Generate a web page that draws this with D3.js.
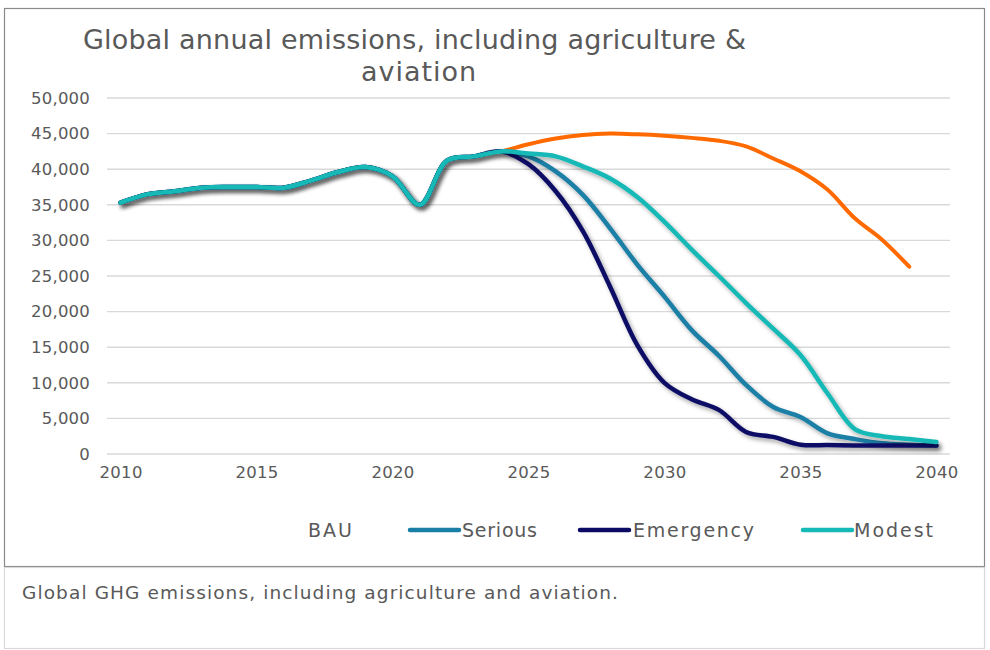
<!DOCTYPE html>
<html>
<head>
<meta charset="utf-8">
<script src="https://cdn.jsdelivr.net/npm/d3@7"></script>
<style>
  html, body { margin: 0; padding: 0; background: #ffffff; }
  svg { display: block; }
  text { font-family: "DejaVu Sans", "Noto Sans", sans-serif; fill: #595959; }
</style>
</head>
<body>
<svg id="chart" width="990" height="650"></svg>
<script>
// Years on the category axis and the labelled ones
const years = d3.range(2010, 2041);
const yearTicks = [2010, 2015, 2020, 2025, 2030, 2035, 2040];
const valueTicks = [0, 5000, 10000, 15000, 20000, 25000, 30000, 35000, 40000, 45000, 50000];

// Shared history 2010–2024
const history = [35300, 36500, 36900, 37400, 37500, 37500, 37400, 38400, 39600, 40300, 39000, 35000, 41200, 41800, 42500];

// Scenario paths from 2025 onward
const bauFuture       = [43500, 44300, 44800, 45000, 44900, 44700, 44400, 44000, 43200, 41500, 39700, 37100, 33100, 30100, 26300];
const seriousFuture   = [41800, 39700, 36400, 31700, 26600, 22100, 17400, 13800, 9700, 6600, 5200, 2900, 2100, 1500, 1300, 1200];
const emergencyFuture = [40700, 36900, 31300, 23500, 15300, 10000, 7700, 6200, 3100, 2400, 1300, 1250, 1200, 1200, 1200, 1200];
const modestFuture    = [42200, 41800, 40400, 38700, 36100, 32600, 28700, 25000, 21200, 17600, 13900, 8500, 3500, 2500, 2100, 1700];

const seriesNames  = ["BAU", "Serious", "Emergency", "Modest"];
const seriesColors = ["#ff6a00", "#1a7fa6", "#0b0b66", "#15b9b6"];
const seriesValues = [
  history.concat(bauFuture),
  history.concat(seriousFuture),
  history.concat(emergencyFuture),
  history.concat(modestFuture)
];

const svg = d3.select("#chart");

// Stretch a text run to a given width by spacing only
function fit(sel, width) {
  sel.attr("textLength", width).attr("lengthAdjust", "spacing");
  return sel;
}

// Drop shadow used by the scenario lines
const defs = svg.append("defs");
const f = defs.append("filter").attr("id", "shadow")
  .attr("x", "-10%").attr("y", "-10%").attr("width", "130%").attr("height", "130%");
f.append("feDropShadow").attr("dx", 2.5).attr("dy", 3).attr("stdDeviation", 2)
  .attr("flood-color", "#000").attr("flood-opacity", 0.35);

// Outer frames: chart area and caption box
svg.append("rect").attr("x", 4.5).attr("y", 8.5).attr("width", 980).attr("height", 558)
  .attr("fill", "#fff").attr("stroke", "#8a8a8a").attr("stroke-width", 1.2);
svg.append("rect").attr("x", 4.5).attr("y", 567.5).attr("width", 980).attr("height", 81)
  .attr("fill", "#fff").attr("stroke", "#d9d9d9").attr("stroke-width", 1.2);

const x = d3.scaleLinear().domain([2009.5, 2040.5]).range([107, 950]);
const y = d3.scaleLinear().domain([0, 50000]).range([454, 98]);

// Gridlines
svg.append("g").selectAll("line").data(valueTicks).join("line")
  .attr("x1", 107).attr("x2", 950)
  .attr("y1", d => y(d)).attr("y2", d => y(d))
  .attr("stroke", "#d9d9d9").attr("stroke-width", 1.4);

// Y axis labels
const yAxis = d3.axisLeft(y).tickValues(valueTicks).tickFormat(d3.format(",")).tickSize(0).tickPadding(0);
svg.append("g").attr("transform", "translate(90,0)").call(yAxis)
  .call(g => g.select(".domain").remove())
  .selectAll("text").attr("font-size", 16.5).style("font-family", null)
  .attr("letter-spacing", 0.2).attr("fill", "#595959");

// X axis labels
const xAxis = d3.axisBottom(x).tickValues(yearTicks).tickFormat(d3.format("d")).tickSize(0).tickPadding(0);
svg.append("g").attr("transform", "translate(0,466)").call(xAxis)
  .call(g => g.select(".domain").remove())
  .selectAll("text").attr("font-size", 16.5).style("font-family", null)
  .attr("letter-spacing", 0.3).attr("fill", "#595959");

// Series lines
const line = d3.line()
  .x((d, i) => x(years[i]))
  .y(d => y(d))
  .curve(d3.curveCatmullRom.alpha(0.5));

seriesValues.forEach((vals, k) => {
  svg.append("path")
    .attr("d", line(vals))
    .attr("fill", "none")
    .attr("stroke", seriesColors[k])
    .attr("stroke-width", k === 0 ? 4 : 4.5)
    .attr("stroke-linecap", "round")
    .attr("stroke-linejoin", "round")
    .attr("filter", k === 0 ? null : "url(#shadow)");
});

// Title
fit(svg.append("text").attr("x", 83).attr("y", 49).attr("font-size", 27)
  .text("Global annual emissions, including agriculture &"), 663);
fit(svg.append("text").attr("x", 361).attr("y", 80.5).attr("font-size", 27)
  .text("aviation"), 115);

// Legend (BAU entry carries no line sample)
const legendItems = [
  { name: seriesNames[0], color: null, sx: null, tx: 308, w: 44 },
  { name: seriesNames[1], color: seriesColors[1], sx: 410, tx: 462, w: 75 },
  { name: seriesNames[2], color: seriesColors[2], sx: 580, tx: 633, w: 121 },
  { name: seriesNames[3], color: seriesColors[3], sx: 803, tx: 854, w: 79 }
];
const lg = svg.append("g");
legendItems.forEach(it => {
  if (it.color) {
    lg.append("line").attr("x1", it.sx).attr("x2", it.sx + 49).attr("y1", 530).attr("y2", 530)
      .attr("stroke", it.color).attr("stroke-width", 4.5).attr("stroke-linecap", "round");
  }
  fit(lg.append("text").attr("x", it.tx).attr("y", 536.5).attr("font-size", 19).text(it.name), it.w);
});

// Caption
fit(svg.append("text").attr("x", 22).attr("y", 599).attr("font-size", 18.5)
  .text("Global GHG emissions, including agriculture and aviation."), 596);
</script>
</body>
</html>
